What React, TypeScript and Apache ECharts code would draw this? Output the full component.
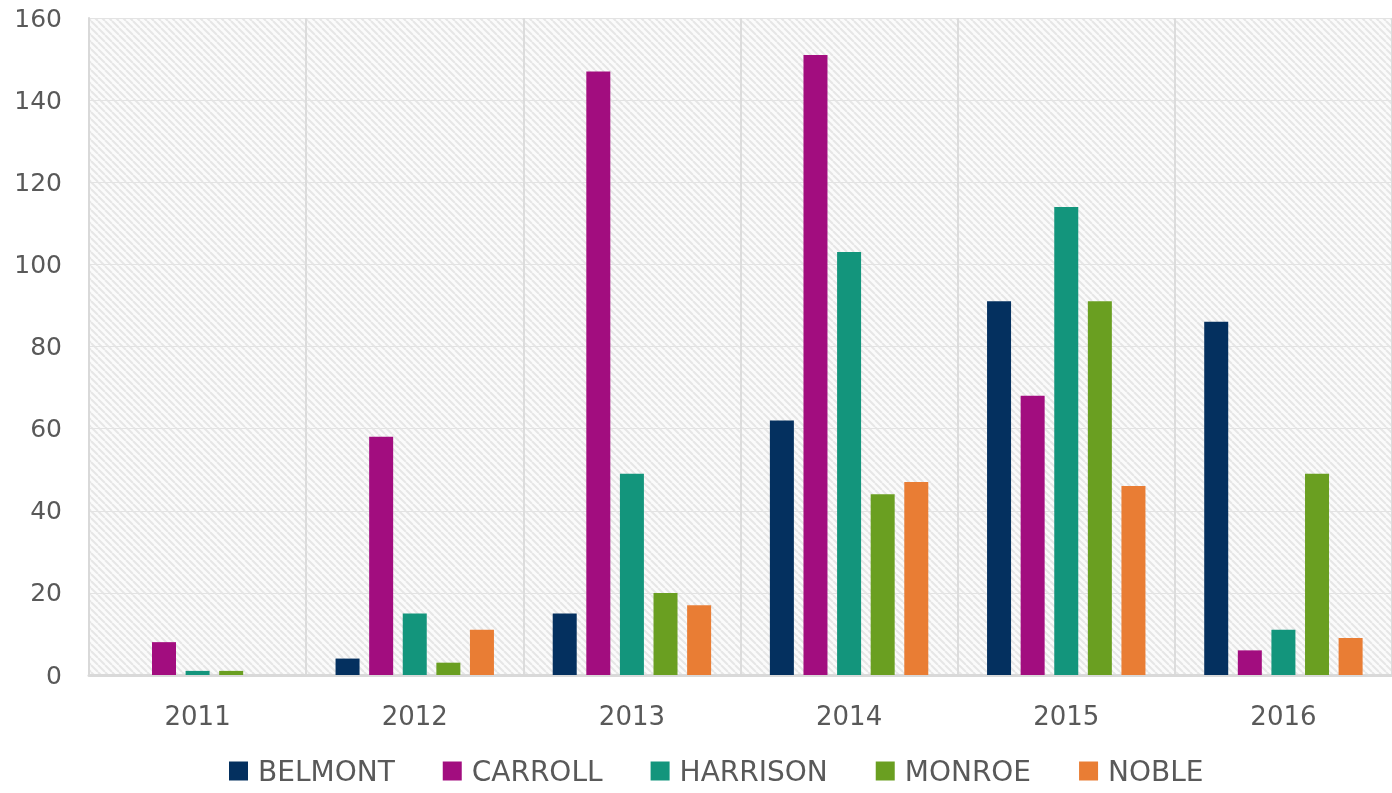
import React, { useEffect, useRef } from "react";
import * as echarts from "echarts";

const years = ["2011", "2012", "2013", "2014", "2015", "2016"];
const seriesNames = ["BELMONT", "CARROLL", "HARRISON", "MONROE", "NOBLE"];
const belmont = [0, 4, 15, 62, 91, 86];
const carroll = [8, 58, 147, 151, 68, 6];
const harrison = [1, 15, 49, 103, 114, 11];
const monroe = [1, 3, 20, 44, 91, 49];
const noble = [0, 11, 17, 47, 46, 9];
const colors = ["#04305F", "#A20D7F", "#13957C", "#6A9F21", "#E97D34"];

function makeHatch(): string {
  const n = 7;
  const c = document.createElement("canvas");
  c.width = n;
  c.height = n;
  const ctx = c.getContext("2d")!;
  ctx.fillStyle = "#fbfbfb";
  ctx.fillRect(0, 0, n, n);
  ctx.strokeStyle = "#e6e6e6";
  ctx.lineWidth = 2;
  for (const o of [-n, 0, n]) {
    ctx.beginPath();
    ctx.moveTo(o, 0);
    ctx.lineTo(o + n, n);
    ctx.stroke();
  }
  return c.toDataURL();
}

export default function App() {
  const ref = useRef<HTMLDivElement>(null);
  useEffect(() => {
    const chart = echarts.init(ref.current!, null, { renderer: "svg" });
    const font = "'DejaVu Sans', sans-serif";
    const data = [belmont, carroll, harrison, monroe, noble];
    chart.setOption({
      animation: false,
      textStyle: { fontFamily: font },
      grid: {
        left: 89,
        top: 18,
        width: 1308,
        height: 657,
        show: true,
        borderWidth: 0,
        backgroundColor: { image: makeHatch(), repeat: "repeat" } as any,
      },
      legend: {
        top: 757,
        left: 229,
        itemWidth: 19,
        itemHeight: 19,
        itemGap: 48,
        icon: "rect",
        padding: 0,
        textStyle: {
          fontSize: 28,
          color: "#595959",
          fontFamily: font,
          padding: [0, 0, 0, 5],
        },
        data: seriesNames,
      },
      xAxis: {
        type: "category",
        data: years,
        axisLine: { show: true, lineStyle: { color: "#d9d9d9", width: 3 } },
        axisTick: { show: false },
        splitLine: { show: true, lineStyle: { color: "#dcdcdc", width: 2 } },
        axisLabel: { fontSize: 26, color: "#595959", margin: 28 },
      },
      yAxis: {
        type: "value",
        min: 0,
        max: 160,
        interval: 20,
        axisLine: { show: true, lineStyle: { color: "#d9d9d9", width: 2 } },
        axisTick: { show: false },
        splitLine: { show: true, lineStyle: { color: "#e3e3e3", width: 1 } },
        axisLabel: { fontSize: 25, color: "#595959", margin: 27 },
      },
      series: seriesNames.map((name, i) => ({
        name,
        type: "bar",
        data: data[i],
        barWidth: 24,
        barGap: "40%",
        itemStyle: { color: colors[i] },
      })),
    });
    return () => chart.dispose();
  }, []);
  return (
    <div
      ref={ref}
      style={{ position: "fixed", left: 0, top: 0, width: 1392, height: 793 }}
    />
  );
}
